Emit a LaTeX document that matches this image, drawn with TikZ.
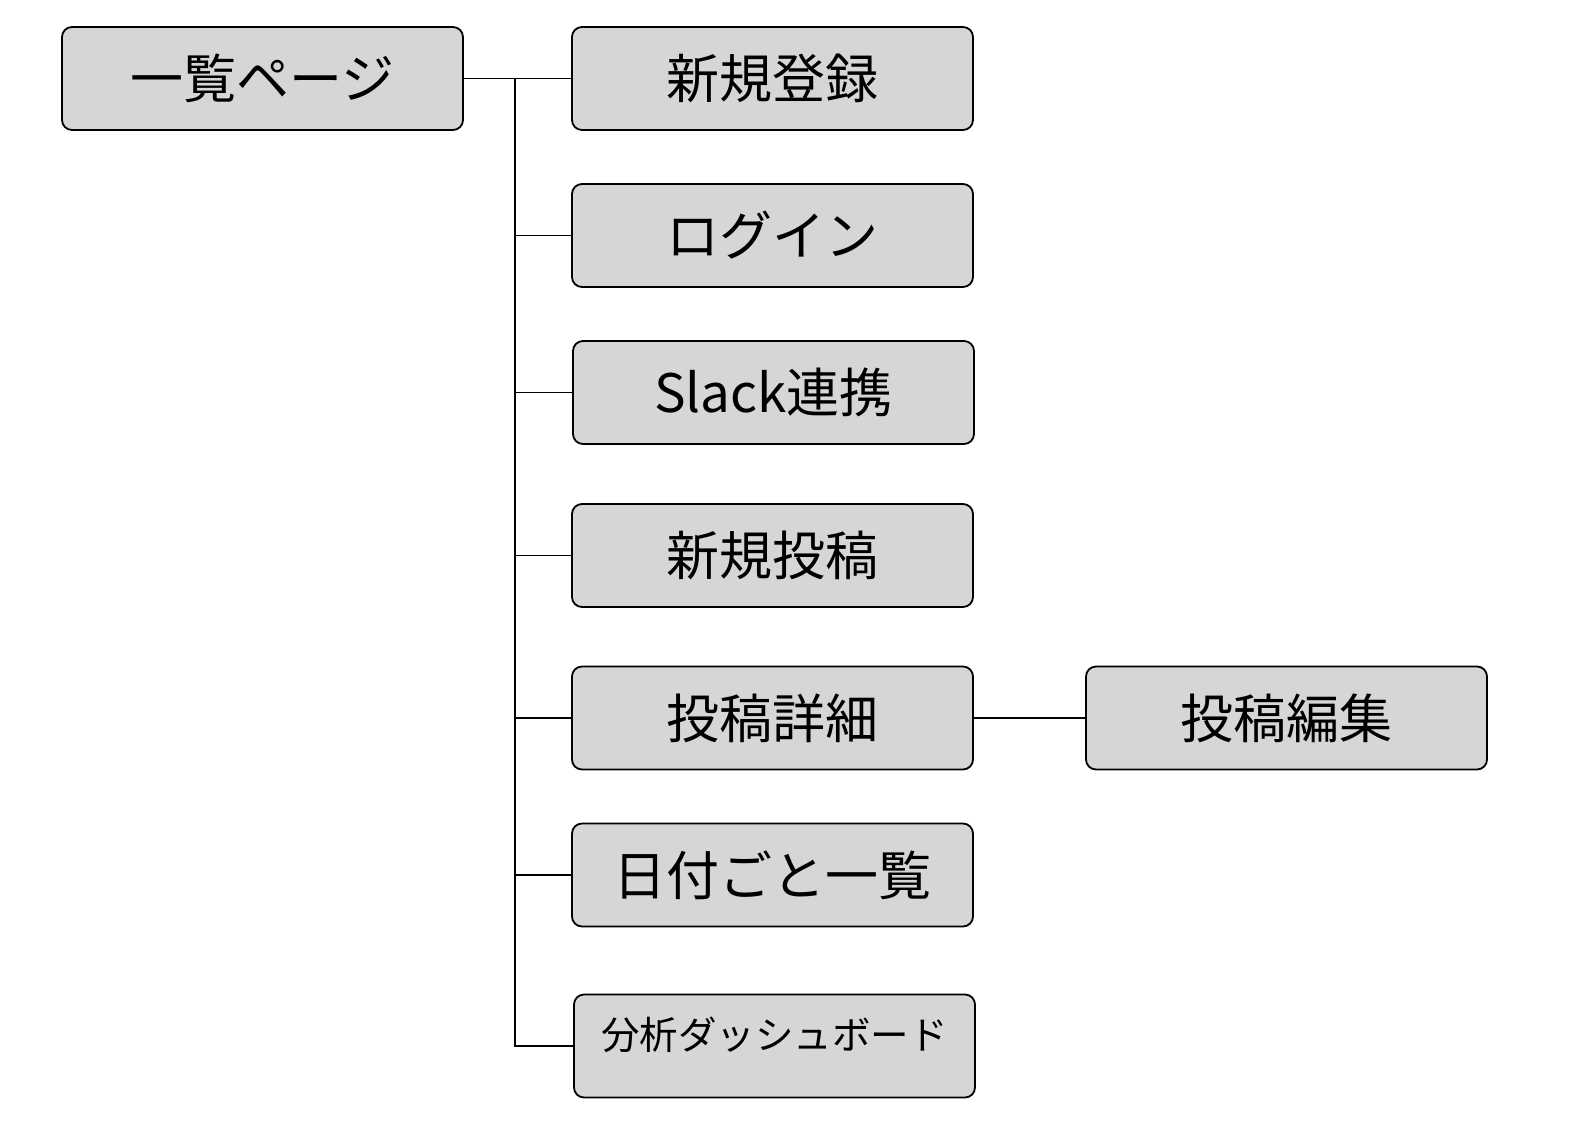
\documentclass[tikz,border=0pt]{standalone}
\usepackage{fontspec}
\setmainfont{Noto Sans CJK JP}
\tikzset{
  box/.style={draw=black, line width=1.8pt, fill=boxgray, rounded corners=10pt, minimum width=401pt, minimum height=103pt, inner sep=0pt, font=\fontsize{53}{62}\selectfont},
  link/.style={draw=black, line width=1.8pt}
}
\definecolor{boxgray}{HTML}{D6D6D6}
\begin{document}
\begin{tikzpicture}[x=1pt,y=-1pt]
\useasboundingbox (0,0) rectangle (1570,1122);
\node[box] (top) at (262.5,78.5) {一覧ページ};
\node[box] (reg) at (772.5,78.5) {新規登録};
\node[box] (login) at (772.5,235.5) {ログイン};
\node[box] (slack) at (773.5,392.5) {Slack連携};
\node[box] (newpost) at (772.5,555.5) {新規投稿};
\node[box] (detail) at (772.5,718) {投稿詳細};
\node[box] (edit) at (1286.5,718) {投稿編集};
\node[box] (bydate) at (772.5,875) {日付ごと一覧};
\node[box, font=\fontsize{38.5}{46}\selectfont, text height=33pt, text depth=27pt] (dash) at (774.5,1046) {分析ダッシュボード};
\coordinate (trunk) at (515,78.5);
\draw[link] (top.east) -- (reg.west);
\draw[link] (trunk) |- (dash.west);
\draw[link] (trunk |- login.west) -- (login.west);
\draw[link] (trunk |- slack.west) -- (slack.west);
\draw[link] (trunk |- newpost.west) -- (newpost.west);
\draw[link] (trunk |- detail.west) -- (detail.west);
\draw[link] (trunk |- bydate.west) -- (bydate.west);
\draw[link] (detail.east) -- (edit.west);
\end{tikzpicture}
\end{document}
